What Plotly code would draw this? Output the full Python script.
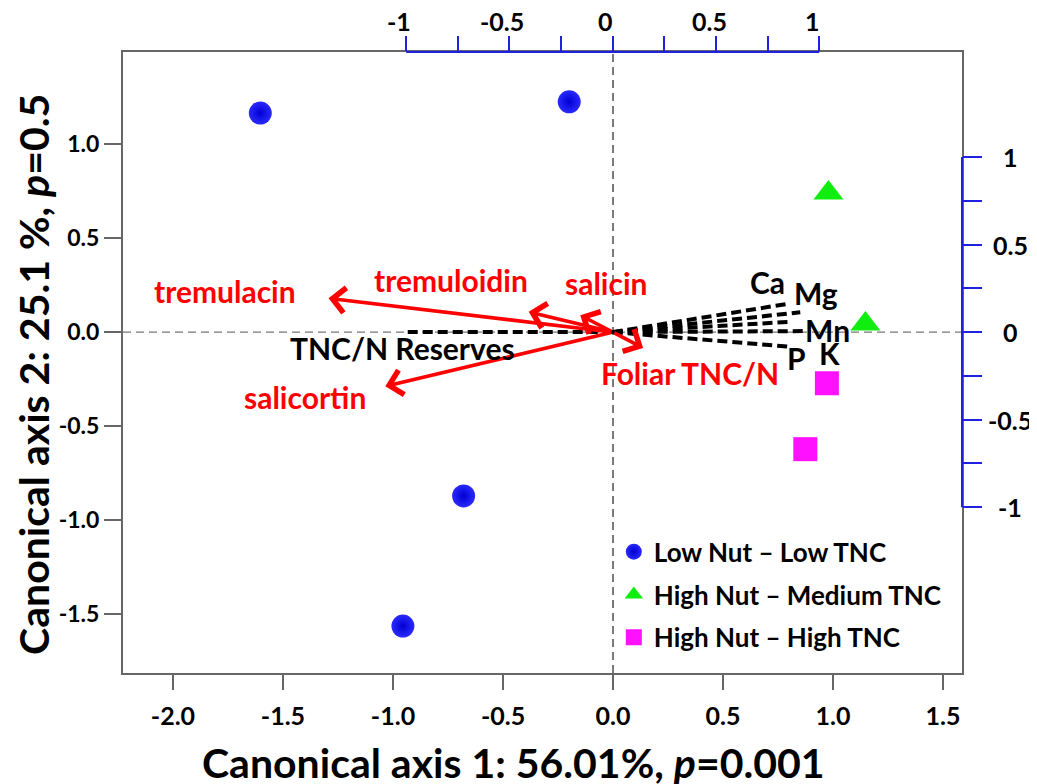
import plotly.graph_objects as go

# ---------------- data ----------------
group_names = ["Low Nut – Low TNC", "High Nut – Medium TNC", "High Nut – High TNC"]
low_x = [-1.603, -0.199, -0.679, -0.955]
low_y = [1.167, 1.227, -0.872, -1.565]
med_x = [0.979, 1.147]
med_y = [0.741, 0.043]
high_x = [0.972, 0.874]
high_y = [-0.272, -0.623]

chem_names = ["tremulacin", "tremuloidin", "salicin", "salicortin", "Foliar TNC/N"]
chem_x = [-1.376, -0.407, -0.157, -1.101, 0.147]
chem_y = [0.193, 0.116, 0.097, -0.309, -0.090]

nut_names = ["TNC/N Reserves", "Ca", "Mg", "K", "Mn", "P"]
nut_x = [-0.996, 0.860, 0.908, 0.860, 0.925, 0.860]
nut_y = [0.000, 0.164, 0.113, 0.059, 0.006, -0.084]

x1_ticks = [-2.0, -1.5, -1.0, -0.5, 0.0, 0.5, 1.0, 1.5]
x1_labels = ["-2.0", "-1.5", "-1.0", "-0.5", "0.0", "0.5", "1.0", "1.5"]
y1_ticks = [-1.5, -1.0, -0.5, 0.0, 0.5, 1.0]
y1_labels = ["-1.5", "-1.0", "-0.5", "0.0", "0.5", "1.0"]
x2_ticks = [-1, -0.75, -0.5, -0.25, 0, 0.25, 0.5, 0.75, 1]
x2_labels = ["-1", "", "-0.5", "", "0", "", "0.5", "", "1"]
y2_ticks = [-1, -0.75, -0.5, -0.25, 0, 0.25, 0.5, 0.75, 1]
y2_labels = ["-1", "", "-0.5", "", "0", "", "0.5", "", "1"]

x_title = "<b>Canonical axis 1: 56.01%, <i>p</i>=0.001</b>"
y_title = "<b>Canonical axis 2: 25.1 %, <i>p</i>=0.5</b>"

# ---------------- styling / positions ----------------
FONT = "Lato"
X1_RANGE = [-2.227, 1.586]
Y1_RANGE = [-1.815, 1.492]
X2_RANGE = [-2.371, 1.691]
Y2_RANGE = [-1.947, 1.600]
BLUE_AX = "#2020e0"
FRAME = "#666666"
LABEL_SIZE = 30

chem_label_shift = {  # px offsets of label centres from arrow tips
    "tremulacin": (-104, 7),
    "tremuloidin": (-78, 32),
    "salicin": (26, 32),
    "salicortin": (-80, -11),
    "Foliar TNC/N": (47, -25),
}
nut_label_shift = {
    "TNC/N Reserves": (-5, -16),
    "Ca": (-23, 21),
    "Mg": (16, 19),
    "K": (39, -31),
    "Mn": (24, 1),
    "P": (6, -11),
}

fig = go.Figure()

# nutrient vectors (black dashed)
for nm, vx, vy in zip(nut_names, nut_x, nut_y):
    fig.add_trace(go.Scatter(
        x=[0, vx], y=[0, vy], xaxis="x2", yaxis="y2", mode="lines",
        line=dict(color="black", width=4, dash="10px,5px"),
        showlegend=False, hoverinfo="skip"))

# group markers
fig.add_trace(go.Scatter(
    x=low_x, y=low_y, mode="markers", name=group_names[0], legendgroup="a",
    marker=dict(symbol="circle", size=23, color="#2a2aff",
                gradient=dict(type="radial", color="#0000d0"))))
fig.add_trace(go.Scatter(
    x=med_x, y=med_y, mode="markers", name=group_names[1], legendgroup="b",
    marker=dict(symbol="triangle-up", size=26, color="#10ee10")))
fig.add_trace(go.Scatter(
    x=high_x, y=high_y, mode="markers", name=group_names[2], legendgroup="c",
    marker=dict(symbol="square", size=24, color="#ff10ff")))

annotations = []
# chemistry arrows (red)
for nm, vx, vy in zip(chem_names, chem_x, chem_y):
    annotations.append(dict(
        x=vx, y=vy, xref="x2", yref="y2", ax=0, ay=0, axref="x2", ayref="y2",
        text="", showarrow=True, arrowhead=4, arrowsize=1.35, arrowwidth=3.6,
        arrowcolor="#ff0000", standoff=0, startstandoff=0))
    dx, dy = chem_label_shift[nm]
    annotations.append(dict(
        x=vx, y=vy, xref="x2", yref="y2", text="<b>%s</b>" % nm, showarrow=False,
        xshift=dx, yshift=dy, font=dict(family=FONT, size=LABEL_SIZE, color="#ff0000")))
for nm, vx, vy in zip(nut_names, nut_x, nut_y):
    dx, dy = nut_label_shift[nm]
    annotations.append(dict(
        x=vx, y=vy, xref="x2", yref="y2", text="<b>%s</b>" % nm, showarrow=False,
        xshift=dx, yshift=dy, font=dict(family=FONT, size=LABEL_SIZE, color="black")))

# top-axis tick labels
for tv, tl in zip(x2_ticks, x2_labels):
    if tl:
        annotations.append(dict(
            x=tv, y=1, xref="x2", yref="paper", text="<b>%s</b>" % tl, showarrow=False,
            xanchor="center", yanchor="middle", xshift=-7, yshift=31,
            font=dict(family=FONT, size=25, color="black")))
# right-axis tick labels (centred)
for tv, tl in zip(y2_ticks, y2_labels):
    if tl:
        annotations.append(dict(
            x=1, y=tv, xref="paper", yref="y2", text="<b>%s</b>" % tl, showarrow=False,
            xanchor="center", xshift=48, font=dict(family=FONT, size=25, color="black")))

# axis titles
annotations.append(dict(
    x=0.465, y=0, xref="paper", yref="paper", yshift=-89, text=x_title,
    showarrow=False, xanchor="center", yanchor="middle",
    font=dict(family=FONT, size=41, color="black")))
annotations.append(dict(
    x=0, y=0.48, xref="paper", yref="paper", xshift=-89, text=y_title,
    showarrow=False, textangle=-90, xanchor="center", yanchor="middle",
    font=dict(family=FONT, size=41, color="black")))

shapes = [
    dict(type="line", xref="paper", yref="y", x0=0, x1=1, y0=0, y1=0,
         line=dict(color="#777777", width=1.2, dash="8px,5px"), layer="below"),
    dict(type="line", xref="x", yref="paper", x0=0, x1=0, y0=0, y1=1,
         line=dict(color="#222222", width=1.2, dash="8px,5px"), layer="below"),
    dict(type="line", xref="x2", yref="paper", x0=x2_ticks[0], x1=x2_ticks[-1], y0=1, y1=1,
         line=dict(color=BLUE_AX, width=2)),
    dict(type="line", xref="paper", yref="y2", x0=1, x1=1, y0=y2_ticks[0], y1=y2_ticks[-1],
         line=dict(color=BLUE_AX, width=2)),
]

fig.update_layout(
    width=1029, height=776,
    margin=dict(l=115, r=75, t=44, b=111, autoexpand=False),
    paper_bgcolor="white", plot_bgcolor="white",
    font=dict(family=FONT, color="black"),
    xaxis=dict(range=X1_RANGE, tickvals=x1_ticks, ticktext=x1_labels,
               ticks="outside", ticklen=15, tickwidth=1.5, tickcolor=FRAME,
               showline=True, linecolor=FRAME, linewidth=2, mirror=True,
               showgrid=False, zeroline=False, automargin=False,
               ticklabelstandoff=5,
               tickfont=dict(family=FONT, size=25, color="black", weight="bold")),
    yaxis=dict(range=Y1_RANGE, tickvals=y1_ticks, ticktext=y1_labels,
               ticks="outside", ticklen=17, tickwidth=1.5, tickcolor=FRAME,
               showline=True, linecolor=FRAME, linewidth=2, mirror=True,
               showgrid=False, zeroline=False, automargin=False,
               tickfont=dict(family=FONT, size=23, color="black", weight="bold")),
    xaxis2=dict(range=X2_RANGE, overlaying="x", side="top", anchor="y",
                tickvals=x2_ticks, showticklabels=False,
                ticks="outside", ticklen=15, tickwidth=1.5, tickcolor=BLUE_AX,
                showline=False, showgrid=False, zeroline=False, automargin=False),
    yaxis2=dict(range=Y2_RANGE, overlaying="y", side="right", anchor="x",
                tickvals=y2_ticks, showticklabels=False, automargin=False,
                ticks="outside", ticklen=19, tickwidth=1.5, tickcolor=BLUE_AX,
                showline=False, showgrid=False, zeroline=False),
    legend=dict(x=0.585, y=0.233, xanchor="left", yanchor="top",
                font=dict(family=FONT, size=26, color="black", weight="bold"),
                tracegroupgap=6, bgcolor="rgba(0,0,0,0)", itemsizing="trace"),
    annotations=annotations,
    shapes=shapes,
)

fig.write_html("out.html")
